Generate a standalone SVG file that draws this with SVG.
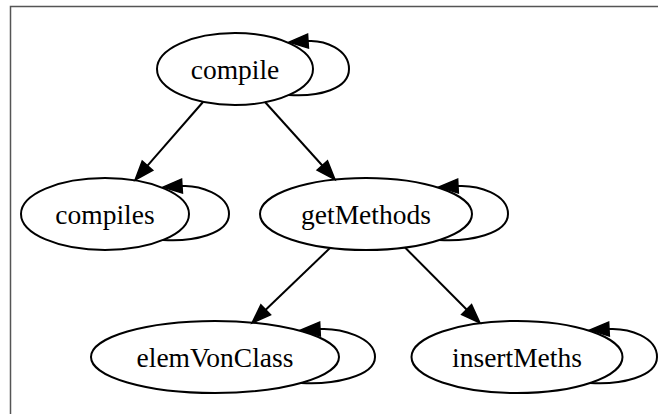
<svg xmlns="http://www.w3.org/2000/svg" width="658" height="414" viewBox="0 0 658 414">
<style>
.node ellipse{fill:none;stroke:#000;stroke-width:2}
.node text{font-family:"Liberation Serif","Times New Roman",serif;font-size:27.5px;text-anchor:middle;fill:#000}
.edge{fill:none;stroke:#000;stroke-width:2}
</style>
<defs>
<marker id="ah" markerUnits="userSpaceOnUse" markerWidth="24" markerHeight="20" refX="1" refY="10" orient="auto" viewBox="0 0 24 20" overflow="visible">
<path d="M1,3 L20,10 L1,17 Z" fill="#000" stroke="#000" stroke-width="1.5" stroke-linejoin="miter"/>
</marker>
</defs>
<rect x="0" y="0" width="658" height="414" fill="#fff"/>
<path d="M10.5,414 V6.5 H658" fill="none" stroke="#555" stroke-width="1.5"/>
<g id="connectors">
<path class="edge" marker-end="url(#ah)" d="M203,102 L147.5,165.7"/>
<path class="edge" marker-end="url(#ah)" d="M265,102 L322.3,165.5"/>
<path class="edge" marker-end="url(#ah)" d="M330,248 L265.7,309.8"/>
<path class="edge" marker-end="url(#ah)" d="M405,247.5 L466.6,309.5"/>
<path class="edge" marker-end="url(#ah)" d="M289,95 C319,97 349,89 349,69 C349,49 324,40 308,41"/>
<path class="edge" marker-end="url(#ah)" d="M163,240 C193,242 229,234 229,214 C229,194 198,185 182,186"/>
<path class="edge" marker-end="url(#ah)" d="M439,240 C469,242 508,234 508,214 C508,194 478,185 458,186"/>
<path class="edge" marker-end="url(#ah)" d="M301,383 C331,385 375,377 375,357 C375,337 340,328 320,329"/>
<path class="edge" marker-end="url(#ah)" d="M590,383 C620,385 657,377 657,357 C657,337 629,328 609,329"/>
</g>
<g id="compile" class="node"><ellipse cx="235" cy="69" rx="78" ry="36"/><text x="235" y="79">compile</text></g>
<g id="compiles" class="node"><ellipse cx="105" cy="214" rx="84" ry="36"/><text x="105" y="224">compiles</text></g>
<g id="getMethods" class="node"><ellipse cx="366" cy="214" rx="106" ry="36"/><text x="366" y="224">getMethods</text></g>
<g id="elemVonClass" class="node"><ellipse cx="215" cy="357" rx="124" ry="36"/><text x="215" y="367">elemVonClass</text></g>
<g id="insertMeths" class="node"><ellipse cx="517" cy="357" rx="105.5" ry="36"/><text x="517" y="367">insertMeths</text></g>
</svg>
